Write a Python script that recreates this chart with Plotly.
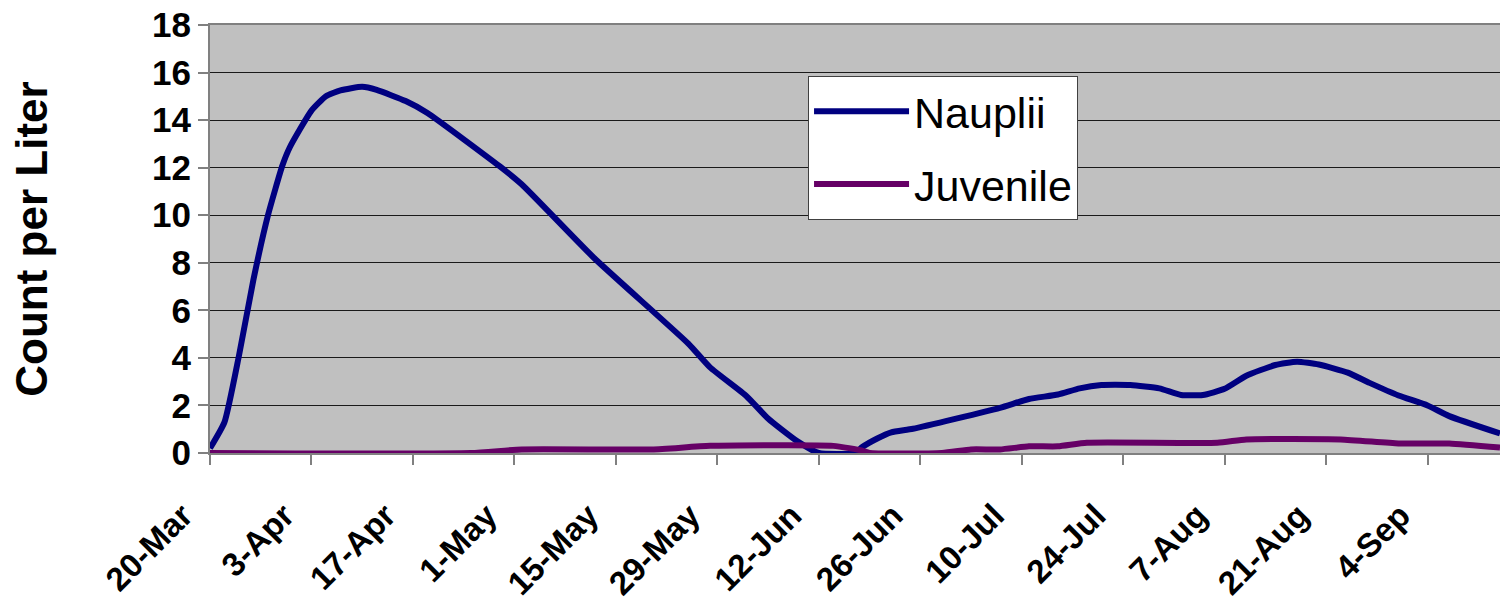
import plotly.graph_objects as go

# Sampling dates (2003 season) and counts per liter
nauplii_dates = [
    "2003-03-20", "2003-03-22", "2003-03-24", "2003-03-26", "2003-03-28", "2003-03-30",
    "2003-03-31", "2003-04-03", "2003-04-05", "2003-04-07", "2003-04-10", "2003-04-12",
    "2003-04-16", "2003-04-19", "2003-04-29", "2003-05-02", "2003-05-12", "2003-05-25",
    "2003-05-28", "2003-06-02", "2003-06-05", "2003-06-09", "2003-06-12", "2003-06-17",
    "2003-06-18", "2003-06-20", "2003-06-22", "2003-06-25", "2003-07-07", "2003-07-11",
    "2003-07-15", "2003-07-18", "2003-07-21", "2003-07-25", "2003-07-29", "2003-08-01",
    "2003-08-04", "2003-08-07", "2003-08-10", "2003-08-14", "2003-08-17", "2003-08-20",
    "2003-08-24", "2003-08-27", "2003-08-31", "2003-09-04", "2003-09-07", "2003-09-14",
]
nauplii_counts = [
    0.2, 1.3, 4.1, 7.3, 10.0, 12.1,
    12.85, 14.4, 15.0, 15.25, 15.4, 15.27,
    14.8, 14.3, 12.05, 11.3, 8.2, 4.6,
    3.6, 2.4, 1.45, 0.5, 0.0, 0.0,
    0.25, 0.6, 0.87, 1.02, 1.9, 2.27,
    2.46, 2.72, 2.86, 2.86, 2.72, 2.44,
    2.44, 2.7, 3.25, 3.7, 3.84, 3.72,
    3.38, 2.95, 2.42, 2.0, 1.55, 0.82,
]

juvenile_dates = [
    "2003-03-20", "2003-04-25", "2003-05-02", "2003-05-20", "2003-05-28", "2003-06-14",
    "2003-06-18", "2003-06-19", "2003-06-29", "2003-07-03", "2003-07-07", "2003-07-11",
    "2003-07-15", "2003-07-19", "2003-08-06", "2003-08-10", "2003-08-23", "2003-08-31",
    "2003-09-07", "2003-09-14",
]
juvenile_counts = [
    0.0, 0.0, 0.15, 0.15, 0.3, 0.3,
    0.1, 0.0, 0.0, 0.15, 0.15, 0.28,
    0.28, 0.43, 0.43, 0.57, 0.57, 0.4,
    0.4, 0.23,
]

FONT = "Liberation Sans, Arial, sans-serif"

fig = go.Figure()
fig.add_trace(go.Scatter(
    x=nauplii_dates, y=nauplii_counts, name="Nauplii", mode="lines",
    legendgroup="nauplii",
    line=dict(color="#000080", width=6, shape="spline", smoothing=0.5),
))
fig.add_trace(go.Scatter(
    x=juvenile_dates, y=juvenile_counts, name="Juvenile", mode="lines",
    legendgroup="juvenile",
    line=dict(color="#660066", width=6, shape="spline", smoothing=0.5),
))

fig.update_layout(
    width=1502, height=609,
    margin=dict(l=210, r=2, t=25, b=156),
    paper_bgcolor="white",
    plot_bgcolor="#C0C0C0",
    font=dict(family=FONT, color="black"),
    legend=dict(
        x=0.4636, y=0.8815, xanchor="left", yanchor="top",
        bgcolor="white", bordercolor="#404040", borderwidth=1,
        font=dict(family=FONT, size=43, color="black"),
        itemwidth=95, tracegroupgap=14,
    ),
    xaxis=dict(
        type="date",
        range=["2003-03-20", "2003-09-14"],
        tick0="2003-03-20", dtick=14 * 86400000,
        tickformat="%-d-%b", tickangle=-45,
        tickfont=dict(family=FONT, size=33, color="black", weight="bold"),
        ticklabelstandoff=18, ticklabelshift=-27,
        ticks="outside", ticklen=10, tickwidth=2, tickcolor="#808080",
        showline=True, linecolor="#808080", linewidth=2, mirror=True,
        showgrid=False, zeroline=False, automargin=False,
    ),
    yaxis=dict(
        range=[0, 18], dtick=2,
        tickfont=dict(family=FONT, size=35, color="black", weight="bold"),
        ticks="outside", ticklen=10, tickwidth=2, tickcolor="#808080",
        showline=True, linecolor="#808080", linewidth=2,
        showgrid=True, gridcolor="#1a1a1a", gridwidth=1,
        zeroline=False,
        title=dict(text="Count per Liter", standoff=91,
                   font=dict(family=FONT, size=44, color="black", weight="bold")),
    ),
)

fig.write_html("out.html")
